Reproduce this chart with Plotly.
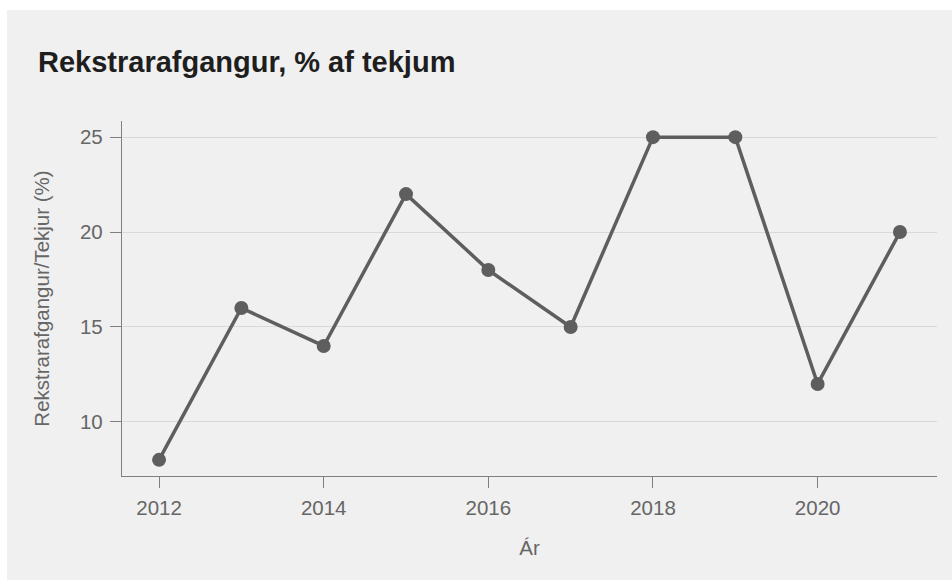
import plotly.graph_objects as go

years = [2012, 2013, 2014, 2015, 2016, 2017, 2018, 2019, 2020, 2021]
ratio = [8, 16, 14, 22, 18, 15, 25, 25, 12, 20]
x_ticks = [2012, 2014, 2016, 2018, 2020]
y_ticks = [10, 15, 20, 25]

title_text = "Rekstrarafgangur, % af tekjum"
x_title = "Ár"
y_title = "Rekstrarafgangur/Tekjur (%)"

W, H = 952, 580
L, R, T, B = 122, 15, 121, 104
pw, ph = W - L - R, H - T - B

FONT = "Liberation Sans, Arial, Helvetica, sans-serif"
LINE_C = "#5e5e5e"
TEXT_C = "#666666"
AXIS_C = "#7f7f7f"
PANEL_C = "#f0f0f0"

fig = go.Figure()
fig.add_trace(go.Scatter(
    x=years, y=ratio, mode="lines+markers",
    line=dict(color=LINE_C, width=3.5),
    marker=dict(color=LINE_C, size=14),
    hoverinfo="x+y", showlegend=False,
))

# thin white border strips at the top and left of the grey panel
fig.add_shape(
    type="rect", xref="paper", yref="paper", layer="below",
    x0=-L / pw - 0.1, x1=(W - L) / pw + 0.1,
    y0=(T + ph - 10) / ph, y1=(T + ph) / ph + 0.1,
    fillcolor="white", line=dict(width=0),
)
fig.add_shape(
    type="rect", xref="paper", yref="paper", layer="below",
    x0=-L / pw - 0.1, x1=(7 - L) / pw,
    y0=-B / ph - 0.1, y1=(T + ph) / ph + 0.1,
    fillcolor="white", line=dict(width=0),
)

fig.update_layout(
    width=W, height=H,
    margin=dict(l=L, r=R, t=T, b=B, pad=0),
    paper_bgcolor=PANEL_C,
    plot_bgcolor="rgba(0,0,0,0)",
    font=dict(family=FONT, color=TEXT_C, size=20),
    title=dict(
        text="<b>" + title_text + "</b>",
        font=dict(family=FONT, size=29, color="#1e1e1e"),
        x=38 / W, xanchor="left", xref="container",
        y=1 - 62 / H, yanchor="middle", yref="container",
    ),
    xaxis=dict(
        range=[2011.55, 2021.45],
        tickmode="array", tickvals=x_ticks,
        ticktext=[str(v) for v in x_ticks],
        showgrid=False, zeroline=False,
        showline=True, linecolor=AXIS_C, linewidth=1.3,
        ticks="outside", ticklen=11, tickcolor=AXIS_C, tickwidth=1.3,
        ticklabelstandoff=2,
        tickfont=dict(size=20.5, color=TEXT_C),
        title=dict(text=x_title, font=dict(size=20.5, color=TEXT_C), standoff=22),
    ),
    yaxis=dict(
        range=[7.15, 25.85],
        tickmode="array", tickvals=y_ticks,
        ticktext=[str(v) for v in y_ticks],
        showgrid=True, gridcolor="#d9d9d9", gridwidth=1.3,
        zeroline=False,
        showline=True, linecolor=AXIS_C, linewidth=1.3,
        ticks="outside", ticklen=11, tickcolor=AXIS_C, tickwidth=1.3,
        ticklabelstandoff=3,
        tickfont=dict(size=20.5, color=TEXT_C),
        title=dict(text=y_title, font=dict(size=20.5, color=TEXT_C), standoff=24),
    ),
)

fig.write_html(
    "out.html",
    config={"displayModeBar": False},
    post_script=(
        "document.body.style.margin='0';"
        "document.body.style.overflow='hidden';"
        "document.body.style.background='" + PANEL_C + "';"
        "document.documentElement.style.background='" + PANEL_C + "';"
    ),
)
